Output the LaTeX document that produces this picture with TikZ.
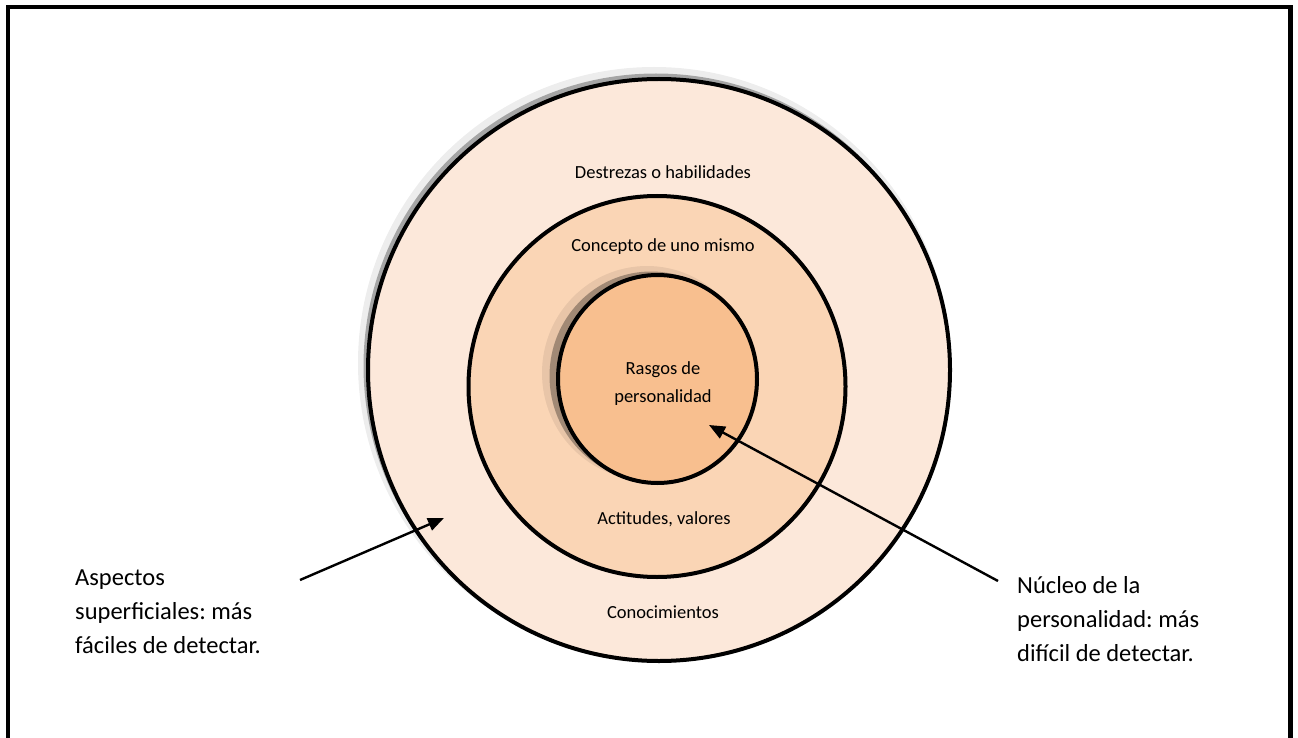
\documentclass[tikz,border=0pt]{standalone}
\usepackage{fontspec}
\setmainfont{Carlito}
\usetikzlibrary{arrows.meta,shapes.geometric}
\definecolor{ringA}{HTML}{FCE8DA}
\definecolor{ringB}{HTML}{FAD5B5}
\definecolor{ringC}{HTML}{F8BF8F}
\begin{document}
\frenchspacing
\begin{tikzpicture}[x=1pt,y=-1pt,
  ring/.style={draw=black,line width=4pt,inner sep=0pt},
  shade1/.style={fill=black,fill opacity=0.07,draw=none,inner sep=0pt},
  shade2/.style={fill=black,fill opacity=0.3,draw=none,inner sep=0pt},
  lbl/.style={font=\fontsize{18.5}{28}\selectfont,align=center,inner sep=0pt},
  side/.style={font=\fontsize{24.5}{34}\selectfont,align=left,inner sep=0pt,anchor=north west},
  pointer/.style={line width=2.4pt,-{Triangle[length=16pt,width=13pt]}}]
\useasboundingbox (0,0) rectangle (1298,738);
\clip (0,0) rectangle (1298,738);
\draw[line width=4.2pt] (8,7) rectangle (1290.5,780);
% outer ring with shadow
\node[circle,shade1,minimum size=592pt] (outersh1) at (654,363) {};
\node[circle,shade2,minimum size=585pt] (outersh2) at (656,366) {};
\node[circle,ring,fill=ringA,minimum size=582pt] (outer) at (659,370) {};
% middle ring
\node[ellipse,ring,fill=ringB,minimum width=377pt,minimum height=381pt] (middle) at (657,386.5) {};
% inner core with shadow
\node[ellipse,shade1,minimum width=210pt,minimum height=214pt] (innersh1) at (647,373) {};
\node[ellipse,shade2,minimum width=203pt,minimum height=209pt] (innersh2) at (651,376) {};
\node[ellipse,ring,fill=ringC,minimum width=199pt,minimum height=208pt] (inner) at (657.5,379) {};
% ring labels
\node[lbl] (destrezas) at (663,172) {Destrezas o habilidades};
\node[lbl] (concepto) at (663,247) {Concepto de uno mismo};
\node[lbl] (rasgos) at (663,384) {Rasgos de\\personalidad};
\node[lbl] (actitudes) at (664,519) {Actitudes, valores};
\node[lbl] (conocimientos) at (663,612) {Conocimientos};
% side labels
\node[side] (aspectos) at (75,569.5) {Aspectos\\superficiales: más\\fáciles de detectar.};
\node[side] (nucleo) at (1017,576) {Núcleo de la\\personalidad: más\\difícil de detectar.};
% pointers
\coordinate (ltail) at (300,580);
\coordinate (ltip) at (444,518);
\coordinate (rtail) at (998,581);
\coordinate (rtip) at (709,425);
\draw[pointer] (ltail) -- (ltip);
\draw[pointer] (rtail) -- (rtip);
\end{tikzpicture}
\end{document}
